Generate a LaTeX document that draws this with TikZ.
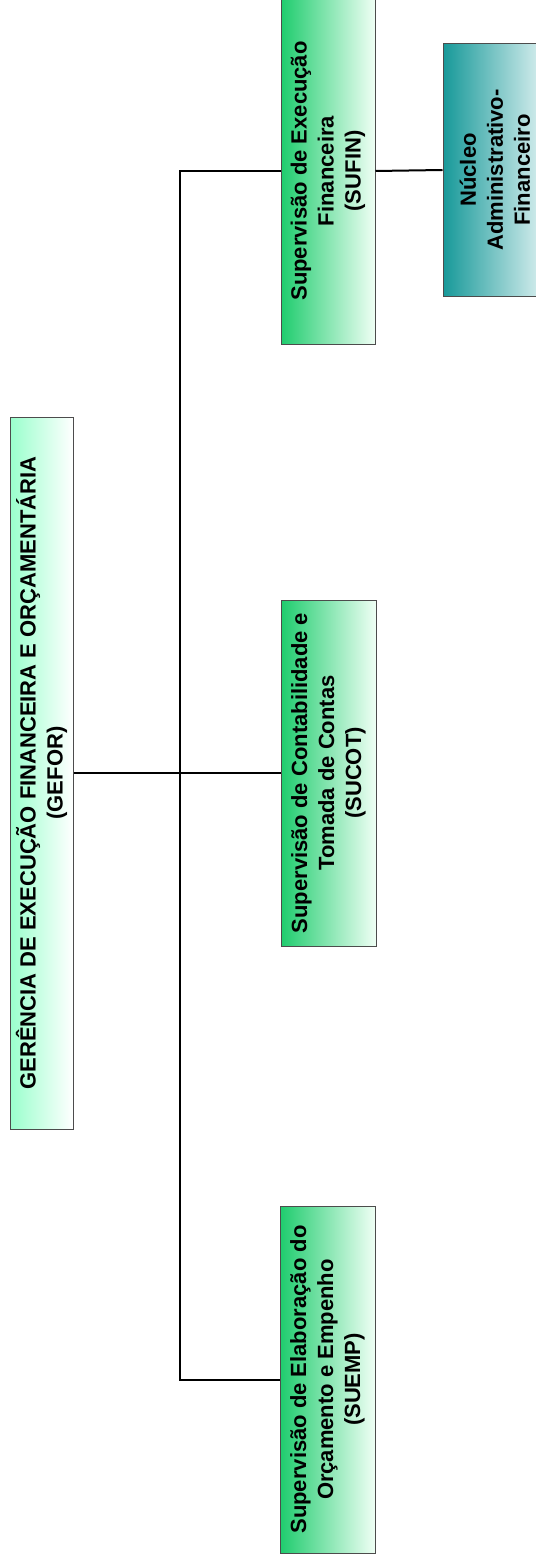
\documentclass[tikz,border=0pt]{standalone}
\usepackage{tikz}
\usepackage{xcolor}
\usepackage{fontspec}
\setmainfont{Liberation Sans}
\usetikzlibrary{shapes, calc, positioning}
\definecolor{supgreen}{rgb}{0.12, 0.80, 0.43}
\definecolor{supwhite}{rgb}{0.94, 1.00, 0.96}
\definecolor{gerlight}{rgb}{0.60, 1.00, 0.80}
\definecolor{nucteal}{rgb}{0.09, 0.60, 0.60}
\definecolor{nuclight}{rgb}{0.88, 0.95, 0.95}
\definecolor{boxline}{rgb}{0.30, 0.30, 0.30}

\begin{document}
\begin{tikzpicture}[x=0.5pt, y=-0.5pt, every path/.style={line width=1pt}, every node/.style={rotate=90, draw=boxline, line width=0.5pt, inner sep=0pt, align=center, font=\fontsize{11}{13.5}\selectfont\bfseries}]
        \useasboundingbox (0,0) rectangle (535,1562);
        \node[left color=gerlight, right color=white, minimum width=356pt, minimum height=31.5pt] (gefor) at (41.5,773) {GERÊNCIA DE EXECUÇÃO FINANCEIRA E ORÇAMENTÁRIA\\(GEFOR)};
        \node[left color=supgreen, right color=supwhite, minimum width=173pt, minimum height=47pt] (sufin) at (328,171) {Supervisão de Execução\\Financeira\\(SUFIN)};
        \node[left color=supgreen, right color=supwhite, minimum width=173pt, minimum height=47.5pt] (sucot) at (328.5,773) {Supervisão de Contabilidade e\\Tomada de Contas\\(SUCOT)};
        \node[left color=supgreen, right color=supwhite, minimum width=173.5pt, minimum height=47.5pt] (suemp) at (327.5,1379.5) {Supervisão de Elaboração do\\Orçamento e Empenho\\(SUEMP)};
        \node[left color=nucteal, right color=nuclight, minimum width=126pt, minimum height=52pt] (nucleo) at (495,170) {Núcleo\\Administrativo-\\Financeiro};
        \coordinate (bus) at (180,773);
        \draw (gefor.south) -- (sucot.north);
        \draw (sufin.north) -| (bus) |- (suemp.north);
        \draw (sufin.south) -- (nucleo.north);
    \end{tikzpicture}
\end{document}
